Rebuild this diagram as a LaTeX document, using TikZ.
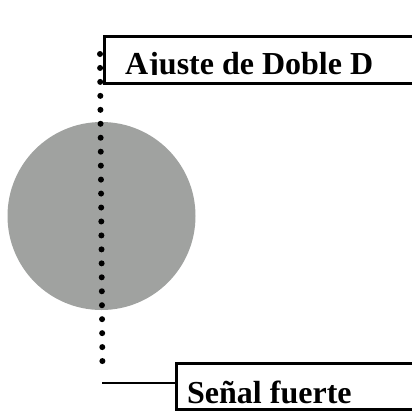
\documentclass[tikz,border=0pt]{standalone}
\usepackage{fontspec}
\setmainfont{Liberation Serif}
\begin{document}
\begin{tikzpicture}[x=1pt,y=-1pt,
  labelbox/.style={draw, line width=2.5pt, inner sep=0pt, anchor=north west},
  lbl/.style={font=\bfseries\fontsize{32}{32}\selectfont, anchor=base west, inner sep=0pt},
  dotline/.style={line width=6pt, line cap=round, dash pattern=on 0pt off 13.957pt},
  conn/.style={line width=2.5pt}]
\useasboundingbox (0,0) rectangle (412,410);
\definecolor{disc}{RGB}{160,162,160}
\fill[disc] (101.5,216) circle (94);
\node[labelbox, minimum width=330pt, minimum height=47pt] (top) at (103,35) {};
\begin{scope}
  \clip (103,35) rectangle (412,74);
  \node[lbl] (toptext) at (125,74) {Ajuste de Doble D};
\end{scope}
\node[labelbox, minimum width=250pt, minimum height=46pt] (bot) at (175,362) {};
\begin{scope}
  \clip (175,362) rectangle (412,403.5);
  \node[lbl] (bottext) at (187,403) {Señal fuerte};
\end{scope}
\coordinate (d1) at (100,54);
\coordinate (d2) at (102.5,375);
\draw[dotline] (d1) -- (d2);
\coordinate (c) at (102,383);
\draw[conn] (c) -- (c -| bot.west);
\end{tikzpicture}
\end{document}
